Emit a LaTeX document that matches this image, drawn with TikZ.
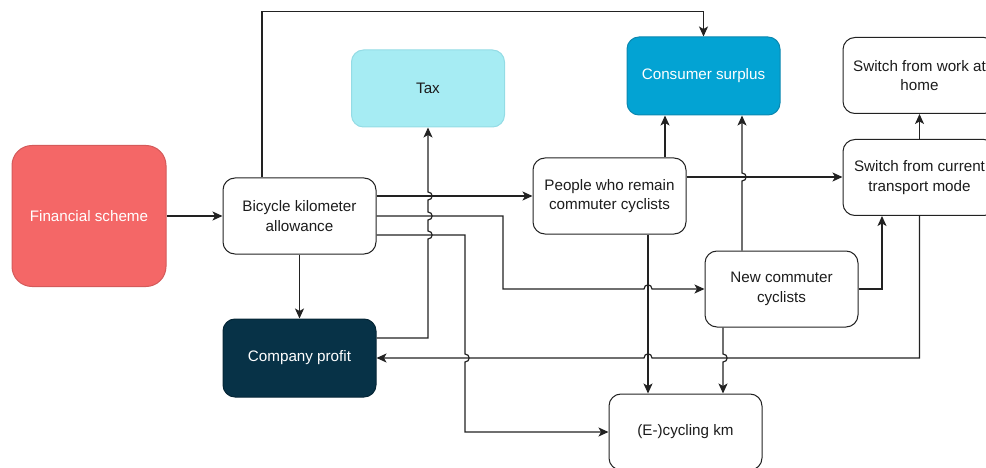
\documentclass[tikz,border=0pt]{standalone}
\usepackage{fontspec}
\setmainfont{Liberation Sans}
\usetikzlibrary{arrows.meta}

\definecolor{inkline}{HTML}{222222}
\definecolor{inktext}{HTML}{1C1C1C}
\definecolor{finfill}{HTML}{F46767}
\definecolor{findraw}{HTML}{D45A5A}
\definecolor{taxfill}{HTML}{A6ECF3}
\definecolor{taxdraw}{HTML}{94DCE5}
\definecolor{csfill}{HTML}{03A3D3}
\definecolor{csdraw}{HTML}{0B88B0}
\definecolor{cpfill}{HTML}{073247}
\definecolor{cpdraw}{HTML}{052636}

\tikzset{
  box/.style={rectangle, rounded corners=12pt, draw=inkline, line width=1pt,
    fill=white, text=inktext, minimum width=153pt, minimum height=76pt,
    inner sep=0pt, align=center, font=\fontsize{15.2pt}{19.5pt}\selectfont},
  finbox/.style={box, fill=finfill, draw=findraw, text=white,
    rounded corners=20pt, minimum width=154pt, minimum height=141pt},
  taxbox/.style={box, fill=taxfill, draw=taxdraw, minimum height=77pt},
  csbox/.style={box, fill=csfill, draw=csdraw, text=white, minimum height=78pt},
  cpbox/.style={box, fill=cpfill, draw=cpdraw, text=white, minimum height=78pt},
  conn/.style={draw=inkline, line width=1.2pt,
    -{Stealth[length=10pt,width=9pt,inset=2.5pt]}}
}

\begin{document}
\begin{tikzpicture}[x=1pt,y=-1pt]
\useasboundingbox (0,0) rectangle (986,468);
\clip (0,0) rectangle (986,468);

% boxes
\node[finbox] (fin) at (89,216) {Financial scheme};
\node[box]    (bka) at (299.5,216) {Bicycle kilometer\\allowance};
\node[taxbox] (tax) at (428,88.5) {Tax};
\node[csbox]  (cs)  at (703.5,76) {Consumer surplus};
\node[box]    (swh) at (919.5,75.5) {Switch from work at\\home};
\node[box]    (prc) at (609.5,196) {People who remain\\commuter cyclists};
\node[box]    (swc) at (919.5,177.5) {Switch from current\\transport mode};
\node[box]    (ncc) at (781.5,289) {New commuter\\cyclists};
\node[cpbox]  (cp)  at (299.5,358) {Company profit};
\node[box]    (ecy) at (685.5,432) {(E-)cycling km};

% connectors
\draw[conn] (fin.east) -- (bka.west);
\draw[conn] ([xshift=-37.5pt]bka.north) |- ([yshift=25pt]cs.north) -- (cs.north);
\draw[conn] (bka.south) -- (cp.north);
\draw[conn] ([yshift=20pt]bka.east) -- ([yshift=20pt]bka.east -| prc.west);
\draw[conn] (bka.east) -- (503,216) -- (503,289) -- (644,289)
  .. controls (644,283.5) and (652,283.5) .. (652,289) -- (ncc.west);
\draw[conn] ([yshift=-19pt]bka.east) -- (465,235) -- (465,354)
  .. controls (470.5,354) and (470.5,362) .. (465,362) |- (ecy.west);
\draw[conn] ([yshift=20pt]cp.east) -- (428,338) -- (428,239)
  .. controls (433.5,239) and (433.5,231) .. (428,231) -- (428,220)
  .. controls (433.5,220) and (433.5,212) .. (428,212) -- (428,200)
  .. controls (433.5,200) and (433.5,192) .. (428,192) -- (tax.south);
\draw[conn] ([xshift=55.5pt]prc.north) -- ([xshift=55.5pt]prc.north |- cs.south);
\draw[conn] ([yshift=19pt]prc.east) -- ([yshift=19pt]prc.east -| swc.west);
\draw[conn] ([xshift=38.5pt]prc.south) -- ([xshift=38.5pt]prc.south |- ecy.north);
\draw[conn] ([xshift=-39.5pt]ncc.north) -- (742,181)
  .. controls (747.5,181) and (747.5,173) .. (742,173)
  -- ([xshift=-39.5pt]ncc.north |- cs.south);
\draw[conn] (ncc.east) -| ([xshift=-37.5pt]swc.south);
\draw[conn] ([xshift=-58.5pt]ncc.south) -- (723,354)
  .. controls (728.5,354) and (728.5,362) .. (723,362)
  -- ([xshift=-58.5pt]ncc.south |- ecy.north);
\draw[conn] (swc.south) -- (919.5,358) -- (652,358)
  .. controls (652,352.5) and (644,352.5) .. (644,358) -- (cp.east);
\draw[conn] (swc.north) -- (swh.south);
\end{tikzpicture}
\end{document}
